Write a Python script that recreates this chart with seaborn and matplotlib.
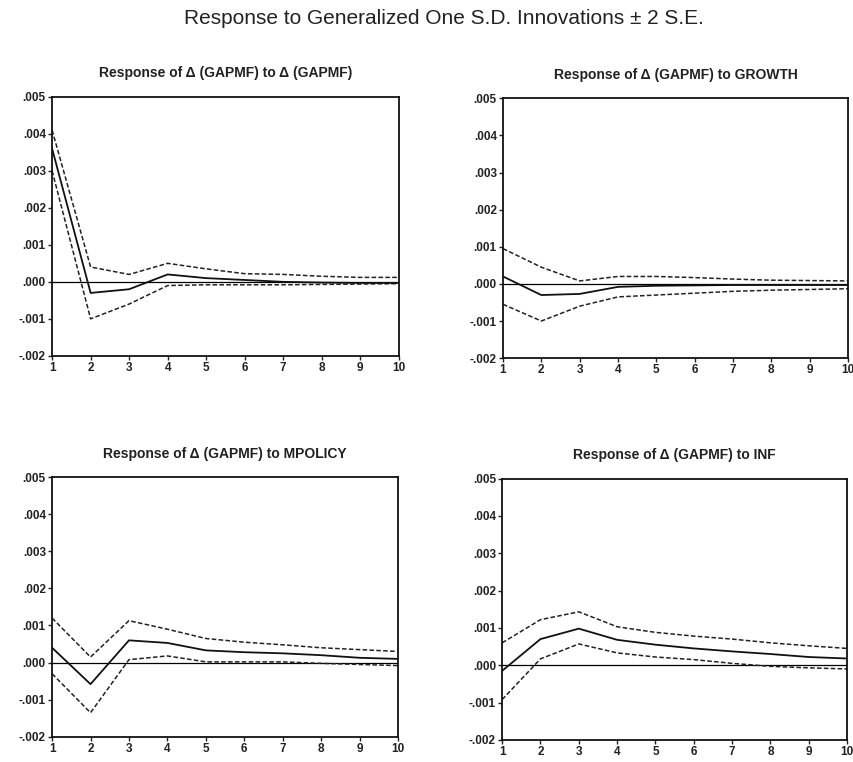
import numpy as np
import pandas as pd
import matplotlib
matplotlib.use('Agg')
import matplotlib.pyplot as plt
from matplotlib.ticker import FuncFormatter
import seaborn as sns

sns.set_style('ticks')
plt.rcParams['font.family'] = ['Liberation Sans', 'DejaVu Sans']

periods = list(range(1, 11))

titles = ['Response of \u0394 (GAPMF) to \u0394 (GAPMF)',
          'Response of \u0394 (GAPMF) to GROWTH',
          'Response of \u0394 (GAPMF) to MPOLICY',
          'Response of \u0394 (GAPMF) to INF']

# values in units of 0.001
gapmf_resp = [3.6, -0.3, -0.2, 0.2, 0.1, 0.05, 0.0, -0.02, -0.03, -0.03]
gapmf_up = [4.1, 0.4, 0.2, 0.5, 0.35, 0.22, 0.2, 0.15, 0.12, 0.12]
gapmf_lo = [3.0, -1.0, -0.6, -0.1, -0.08, -0.08, -0.08, -0.07, -0.06, -0.05]

growth_resp = [0.2, -0.3, -0.27, -0.08, -0.05, -0.04, -0.03, -0.03, -0.03, -0.03]
growth_up = [0.95, 0.45, 0.08, 0.2, 0.2, 0.17, 0.13, 0.1, 0.09, 0.08]
growth_lo = [-0.55, -1.0, -0.6, -0.35, -0.3, -0.25, -0.2, -0.17, -0.15, -0.13]

mpolicy_resp = [0.4, -0.58, 0.6, 0.53, 0.33, 0.28, 0.25, 0.2, 0.13, 0.1]
mpolicy_up = [1.2, 0.15, 1.13, 0.9, 0.65, 0.55, 0.48, 0.4, 0.35, 0.3]
mpolicy_lo = [-0.3, -1.35, 0.08, 0.18, 0.02, 0.02, 0.02, -0.02, -0.05, -0.08]

inf_resp = [-0.15, 0.7, 0.98, 0.68, 0.55, 0.45, 0.37, 0.3, 0.22, 0.18]
inf_up = [0.6, 1.22, 1.43, 1.03, 0.88, 0.78, 0.7, 0.6, 0.52, 0.45]
inf_lo = [-0.92, 0.17, 0.57, 0.33, 0.22, 0.15, 0.05, -0.03, -0.07, -0.1]

panels = [(gapmf_resp, gapmf_up, gapmf_lo),
          (growth_resp, growth_up, growth_lo),
          (mpolicy_resp, mpolicy_up, mpolicy_lo),
          (inf_resp, inf_up, inf_lo)]

positions = [[0.061, 0.533, 0.406, 0.340],
             [0.589, 0.530, 0.404, 0.341],
             [0.061, 0.033, 0.405, 0.341],
             [0.588, 0.029, 0.404, 0.343]]

fig = plt.figure(figsize=(8.54, 7.62), dpi=100)
fig.text(0.52, 0.976, 'Response to Generalized One S.D. Innovations \u00b1 2 S.E.',
         ha='center', va='center', fontsize=15, color='#222222')

fmt = FuncFormatter(lambda v, p: f"{v:.3f}".replace("0.", ".", 1))

for pos, title, (resp, up, lo) in zip(positions, titles, panels):
    ax = fig.add_axes(pos)
    df = pd.DataFrame({'period': periods,
                       'resp': np.array(resp) / 1000,
                       'up': np.array(up) / 1000,
                       'lo': np.array(lo) / 1000})
    ax.axhline(0, color='black', lw=0.9)
    sns.lineplot(data=df, x='period', y='up', ax=ax, color='#222222', lw=1.1, linestyle=(0, (3, 1.5)))
    sns.lineplot(data=df, x='period', y='lo', ax=ax, color='#222222', lw=1.1, linestyle=(0, (3, 1.5)))
    sns.lineplot(data=df, x='period', y='resp', ax=ax, color='#111111', lw=1.3)
    ax.set_xlim(1, 10)
    ax.set_ylim(-0.002, 0.005)
    ax.set_xticks(periods)
    ax.set_yticks(np.arange(-0.002, 0.0051, 0.001))
    ax.yaxis.set_major_formatter(fmt)
    ax.set_xlabel('')
    ax.set_ylabel('')
    ax.tick_params(labelsize=8.5, length=3, width=1, pad=1.5, colors='#222222')
    for lab in ax.get_xticklabels() + ax.get_yticklabels():
        lab.set_fontweight('bold')
    for s in ax.spines.values():
        s.set_visible(True)
        s.set_linewidth(1.3)
        s.set_color('#111111')
    ax.set_title(title, fontsize=10, fontweight='bold', pad=14, color='#222222')

fig.savefig('out.png', dpi=100)
